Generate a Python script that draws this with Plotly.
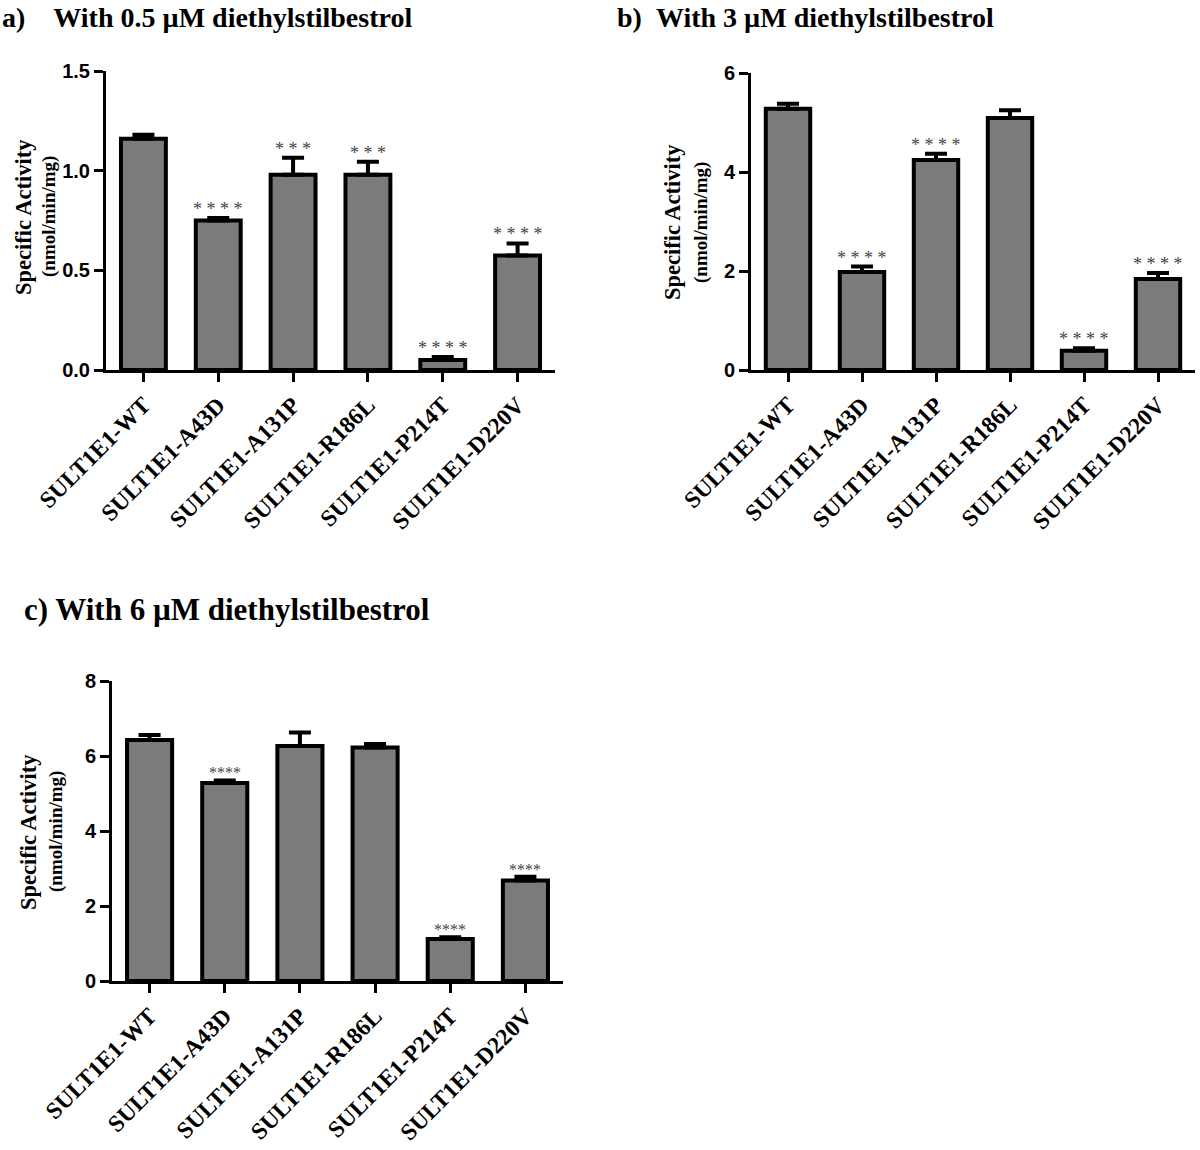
import plotly.graph_objects as go

categories = ["SULT1E1-WT", "SULT1E1-A43D", "SULT1E1-A131P", "SULT1E1-R186L", "SULT1E1-P214T", "SULT1E1-D220V"]

# Panel a: 0.5 uM
a_values = [1.16, 0.75, 0.98, 0.98, 0.05, 0.575]
a_errors = [0.02, 0.012, 0.085, 0.065, 0.015, 0.06]
a_stars = ["", "* * * *", "* * *", "* * *", "* * * *", "* * * *"]

# Panel b: 3 uM
b_values = [5.28, 1.98, 4.24, 5.09, 0.39, 1.84]
b_errors = [0.10, 0.11, 0.13, 0.16, 0.05, 0.12]
b_stars = ["", "* * * *", "* * * *", "", "* * * *", "* * * *"]

# Panel c: 6 uM
c_values = [6.43, 5.28, 6.27, 6.23, 1.12, 2.68]
c_errors = [0.13, 0.07, 0.36, 0.09, 0.05, 0.10]
c_stars = ["", "****", "", "", "****", "****"]

a_ticks = [0.0, 0.5, 1.0, 1.5]
b_ticks = [0, 2, 4, 6]
c_ticks = [0, 2, 4, 6, 8]

NB = "\u00a0"
titles = ["a)" + NB * 4 + "With 0.5 \u00b5M diethylstilbestrol",
          "b)" + NB * 2 + "With 3 \u00b5M diethylstilbestrol",
          "c) With 6 \u00b5M diethylstilbestrol"]

W, H = 1200, 1150
def fx(px):
    return px / W
def fy(py):
    return 1 - py / H

SERIF = "Liberation Serif"
SANS = "Liberation Sans"
BAR_FILL = "#7b7b7b"

fig = go.Figure()

panels = [
    dict(vals=a_values, errs=a_errors, stars=a_stars, ticks=a_ticks, fmt=".1f", rng=[0, 1.5],
         xd=[fx(106), fx(555)], yd=[fy(370), fy(71)], ax="", title=dict(x=0, y=0, anchor="top", size=28),
         ylab_x=(23, 49), ylab_y=217, starsize=18, starshift=-3),
    dict(vals=b_values, errs=b_errors, stars=b_stars, ticks=b_ticks, fmt="d", rng=[0, 6],
         xd=[fx(751), fx(1195)], yd=[fy(370), fy(73)], ax="2", title=dict(x=615, y=0, anchor="top", size=28),
         ylab_x=(673, 701), ylab_y=222, starsize=18, starshift=-3),
    dict(vals=c_values, errs=c_errors, stars=c_stars, ticks=c_ticks, fmt="d", rng=[0, 8],
         xd=[fx(112), fx(563)], yd=[fy(981), fy(681)], ax="3", title=dict(x=22, y=609, anchor="middle", size=31),
         ylab_x=(28, 56), ylab_y=832, starsize=16, starshift=-3),
]

annotations = []
for i, p in enumerate(panels):
    xa = "x" + p["ax"]
    ya = "y" + p["ax"]
    fig.add_trace(go.Bar(
        x=categories, y=p["vals"], xaxis=xa, yaxis=ya, width=0.6,
        marker=dict(color=BAR_FILL, line=dict(color="black", width=4)),
        error_y=dict(type="data", symmetric=False, array=p["errs"], arrayminus=[0] * len(p["vals"]),
                     color="black", thickness=4, width=11),
        showlegend=False, hoverinfo="skip",
    ))
    for c, v, e, s in zip(categories, p["vals"], p["errs"], p["stars"]):
        if s:
            annotations.append(dict(x=c, y=v + e, xref=xa, yref=ya, text=s, showarrow=False,
                                    yanchor="bottom", yshift=p["starshift"],
                                    font=dict(family=SERIF, size=p["starsize"], color="#444444")))
    layout_x = dict(domain=p["xd"], anchor=ya, type="category", range=[-0.5, 5.5],
                    showline=True, linecolor="black", linewidth=3, ticks="outside", ticklen=9,
                    tickwidth=3, tickcolor="black", tickangle=-45, automargin=False,
                    tickfont=dict(family=SERIF, size=23.5, color="black", weight="bold"),
                    showgrid=False, zeroline=False, fixedrange=True)
    layout_y = dict(domain=p["yd"], anchor=xa, range=p["rng"], tickvals=p["ticks"], tickformat=p["fmt"],
                    showline=True, linecolor="black", linewidth=3, ticks="outside", ticklen=9,
                    tickwidth=3, tickcolor="black", automargin=False,
                    tickfont=dict(family=SANS, size=20, color="black", weight="bold"),
                    showgrid=False, zeroline=False, fixedrange=True)
    fig.update_layout(**{"xaxis" + p["ax"]: layout_x, "yaxis" + p["ax"]: layout_y})

    t = p["title"]
    annotations.append(dict(x=fx(t["x"]), y=fy(t["y"]), xref="paper", yref="paper", xanchor="left",
                            yanchor=t["anchor"], text="<b>" + titles[i] + "</b>", showarrow=False,
                            font=dict(family=SERIF, size=t["size"], color="black")))
    annotations.append(dict(x=fx(p["ylab_x"][0]), y=fy(p["ylab_y"]), xref="paper", yref="paper",
                            xanchor="center", yanchor="middle", textangle=-90,
                            text="<b>Specific Activity</b>", showarrow=False,
                            font=dict(family=SERIF, size=22.5, color="black")))
    annotations.append(dict(x=fx(p["ylab_x"][1]), y=fy(p["ylab_y"]), xref="paper", yref="paper",
                            xanchor="center", yanchor="middle", textangle=-90,
                            text="<b>(nmol/min/mg)</b>", showarrow=False,
                            font=dict(family=SERIF, size=19, color="black")))

fig.update_layout(width=W, height=H, margin=dict(l=0, r=0, t=0, b=0, autoexpand=False),
                  paper_bgcolor="white", plot_bgcolor="white", annotations=annotations)

fig.write_html("out.html", config={"displayModeBar": False},
               post_script="document.body.style.margin='0px';")
